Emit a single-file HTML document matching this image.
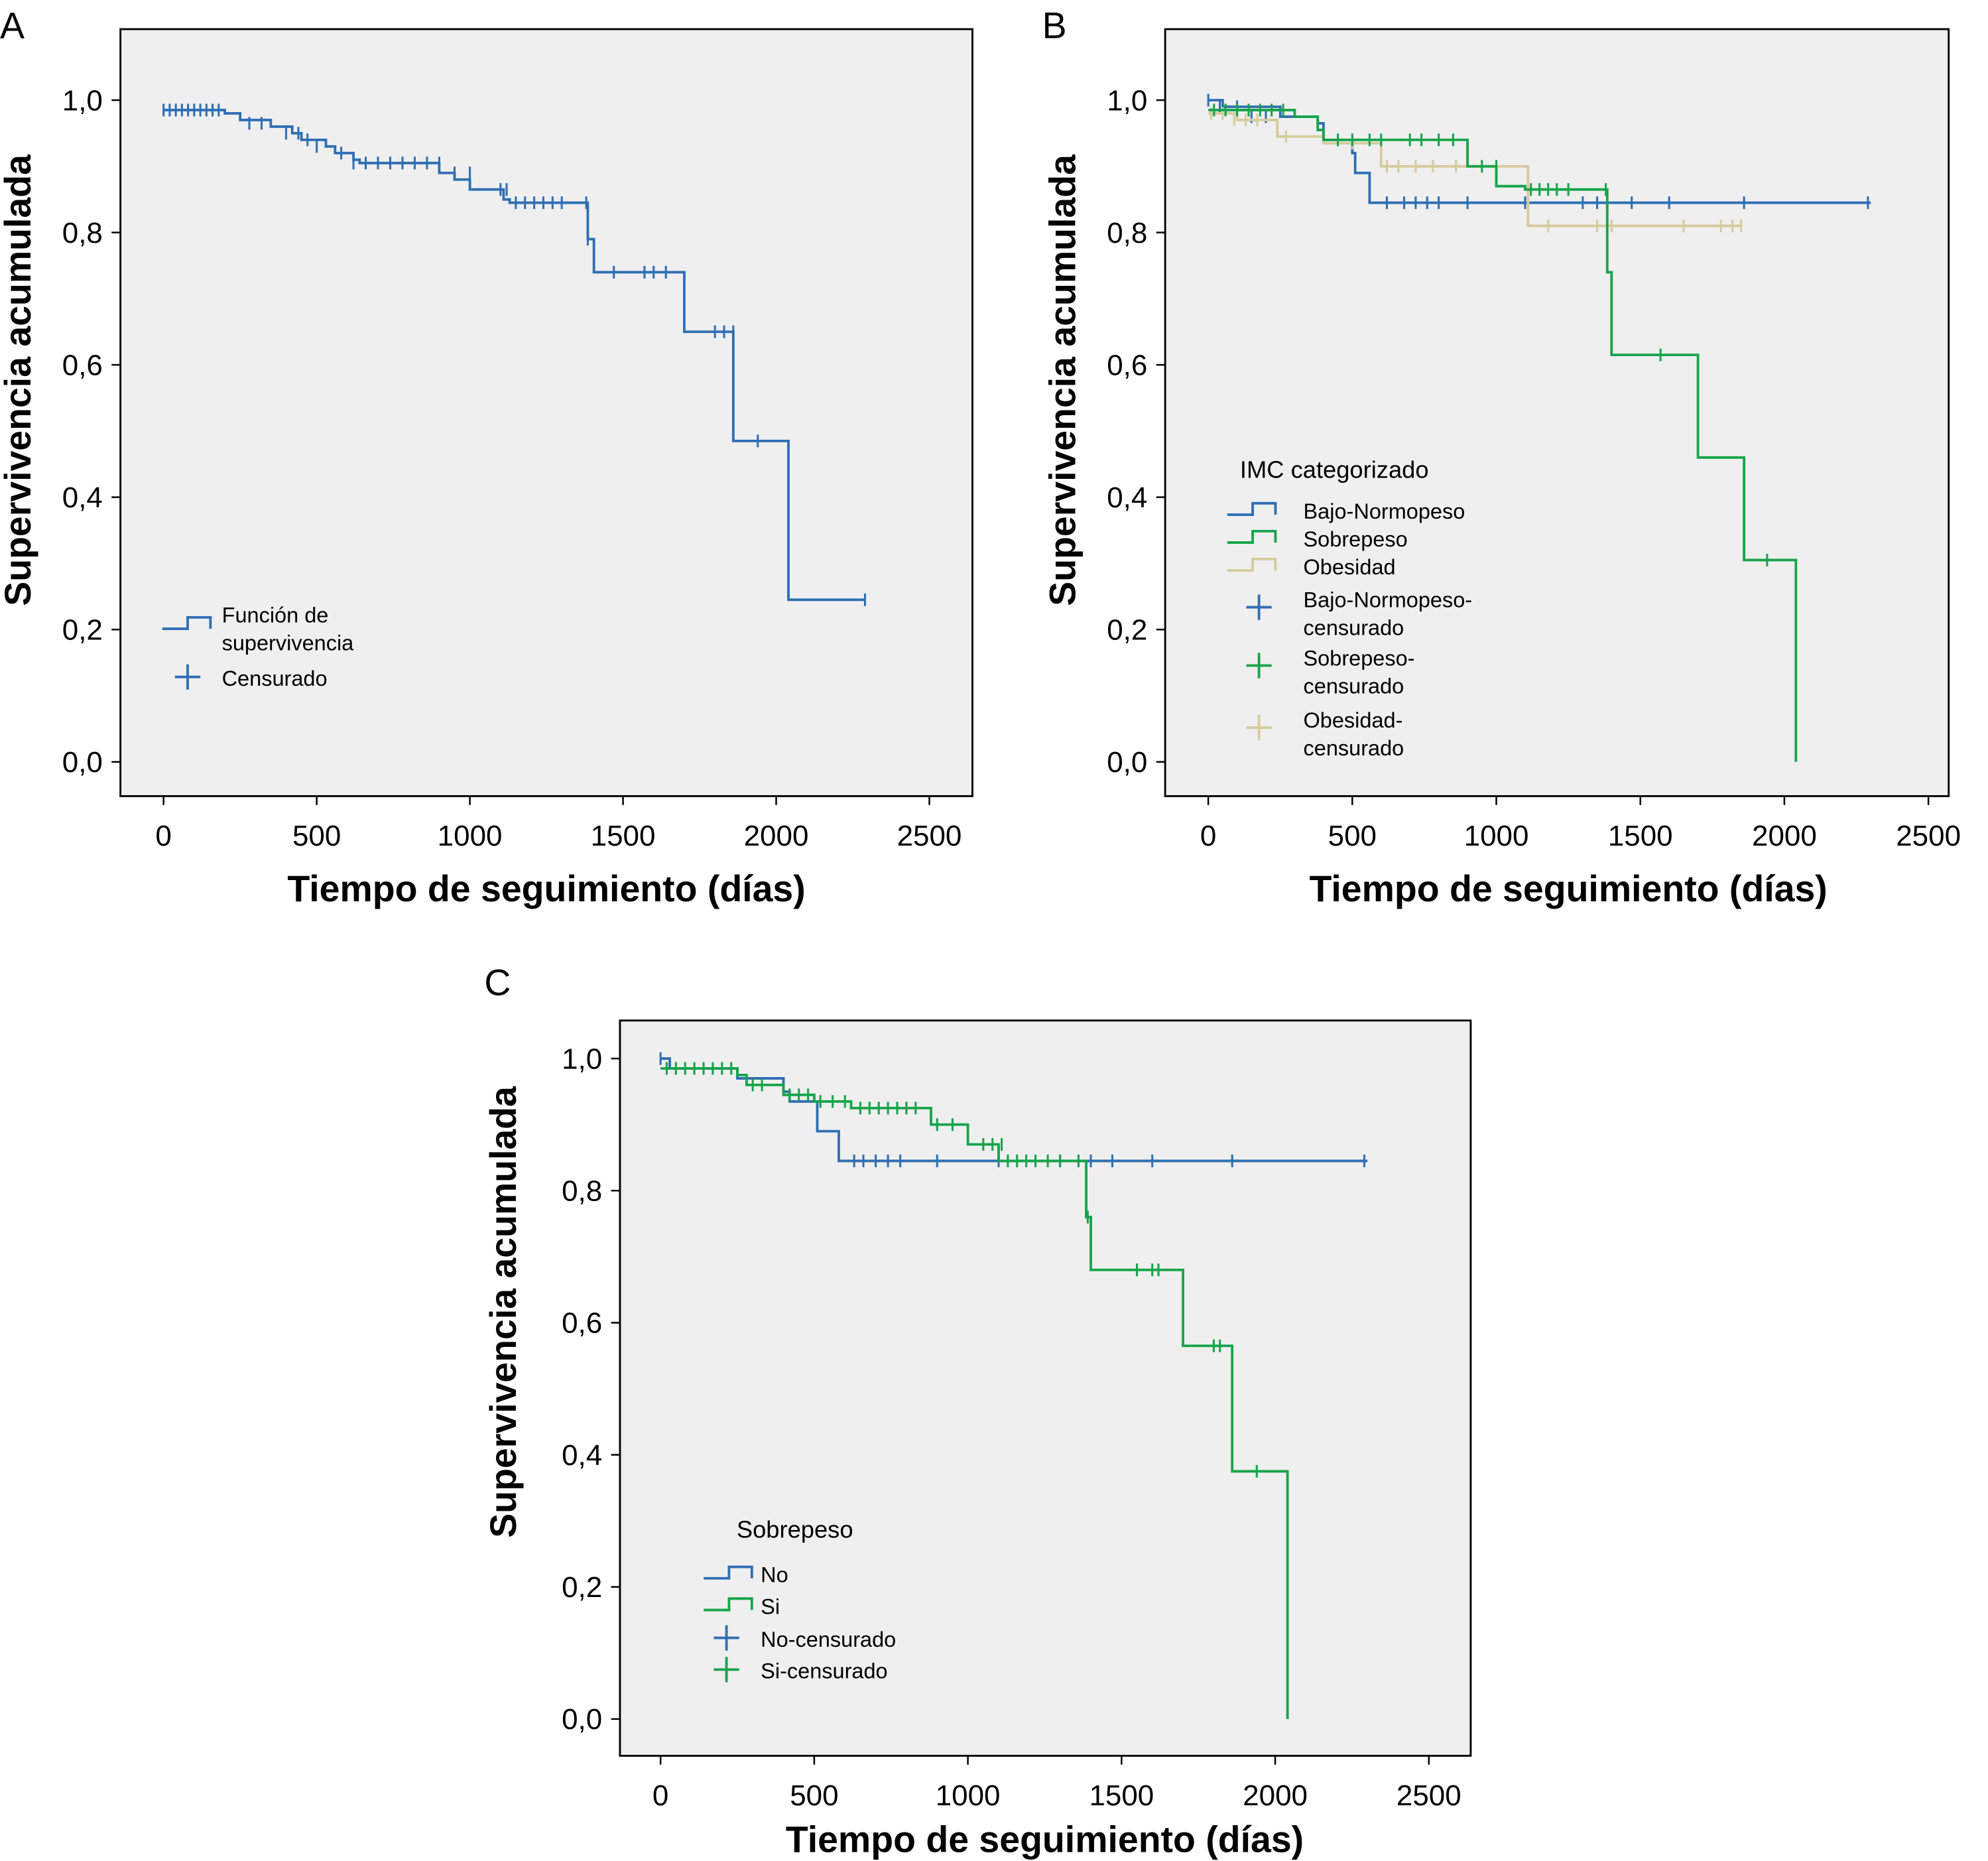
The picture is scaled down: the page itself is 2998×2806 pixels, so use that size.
<!DOCTYPE html>
<html><head><meta charset="utf-8"><style>
html,body{margin:0;padding:0;background:#fff;}
svg{display:block;font-family:"Liberation Sans",Arial,sans-serif;}
</style></head><body>
<svg id="chart" width="2998" height="2806" viewBox="0 0 1568 1468" preserveAspectRatio="none" xmlns="http://www.w3.org/2000/svg"></svg>
<script>
// Panel A data
const aTimes=[0,200,250,350,420,450,530,560,620,640,900,950,1000,1110,1130,1385,1405,1700,1860,2040,2290];
const aSurv=[0.985,0.98,0.97,0.96,0.95,0.94,0.93,0.92,0.91,0.905,0.89,0.88,0.865,0.85,0.845,0.79,0.74,0.65,0.485,0.245,0.245];
const aCensT=[0,20,40,60,80,100,120,140,160,180,280,320,400,440,470,500,580,620,660,700,740,780,820,860,900,950,1000,1100,1120,1150,1180,1210,1240,1270,1300,1380,1385,1470,1570,1600,1640,1800,1830,1860,1940,2290];
const aCensS=[0.985,0.985,0.985,0.985,0.985,0.985,0.985,0.985,0.985,0.985,0.965,0.965,0.95,0.95,0.94,0.93,0.92,0.905,0.905,0.905,0.905,0.905,0.905,0.905,0.905,0.89,0.89,0.865,0.865,0.845,0.845,0.845,0.845,0.845,0.845,0.845,0.79,0.74,0.74,0.74,0.74,0.65,0.65,0.65,0.485,0.245];
// Panel B data
const bBlueT=[0,50,250,380,400,500,510,560,2300];
const bBlueS=[1.0,0.99,0.975,0.965,0.94,0.92,0.89,0.845,0.845];
const bBlueCT=[0,40,100,150,200,620,680,720,760,800,900,1100,1300,1350,1470,1600,1860,2290];
const bBlueCS=[1.0,0.99,0.99,0.975,0.975,0.845,0.845,0.845,0.845,0.845,0.845,0.845,0.845,0.845,0.845,0.845,0.845,0.845];
const bGreenT=[0,300,380,400,900,1000,1100,1385,1400,1700,1860,2040];
const bGreenS=[0.985,0.975,0.955,0.94,0.90,0.87,0.865,0.74,0.615,0.46,0.305,0.0];
const bGreenCT=[20,60,100,140,180,220,260,450,500,560,600,700,740,800,850,950,1000,1120,1150,1180,1210,1250,1380,1570,1940];
const bGreenCS=[0.985,0.985,0.985,0.985,0.985,0.985,0.985,0.94,0.94,0.94,0.94,0.94,0.94,0.94,0.94,0.90,0.90,0.865,0.865,0.865,0.865,0.865,0.865,0.615,0.305];
const bTanT=[0,100,240,400,600,1110,1850];
const bTanS=[0.98,0.97,0.945,0.935,0.90,0.81,0.81];
const bTanCT=[10,50,90,130,170,270,500,620,660,720,780,860,1180,1350,1400,1650,1780,1820,1850];
const bTanCS=[0.98,0.98,0.97,0.97,0.97,0.945,0.935,0.90,0.90,0.90,0.90,0.90,0.81,0.81,0.81,0.81,0.81,0.81,0.81];
// Panel C data
const cBlueT=[0,30,250,400,420,510,580,2300];
const cBlueS=[1.0,0.985,0.97,0.95,0.935,0.89,0.845,0.845];
const cBlueCT=[0,630,660,700,740,780,900,1100,1300,1400,1470,1600,1860,2290];
const cBlueCS=[1.0,0.845,0.845,0.845,0.845,0.845,0.845,0.845,0.845,0.845,0.845,0.845,0.845,0.845];
const cGreenT=[0,250,280,400,500,620,880,1000,1100,1385,1400,1700,1860,2040];
const cGreenS=[0.985,0.975,0.96,0.945,0.935,0.925,0.90,0.87,0.845,0.76,0.68,0.565,0.375,0.0];
const cGreenCT=[20,50,80,110,140,170,200,230,300,330,420,450,480,520,560,600,650,680,710,740,770,800,830,900,950,1050,1080,1110,1130,1160,1190,1220,1260,1300,1360,1390,1550,1600,1620,1800,1820,1940];
const cGreenCS=[0.985,0.985,0.985,0.985,0.985,0.985,0.985,0.985,0.96,0.96,0.945,0.945,0.945,0.935,0.935,0.935,0.925,0.925,0.925,0.925,0.925,0.925,0.925,0.90,0.90,0.87,0.87,0.87,0.845,0.845,0.845,0.845,0.845,0.845,0.845,0.76,0.68,0.68,0.68,0.565,0.565,0.375];
const xTicks=[0,500,1000,1500,2000,2500];
const yTicks=[0,0.2,0.4,0.6,0.8,1.0];
const yTickLabels=["0,0","0,2","0,4","0,6","0,8","1,0"];

const NS="http://www.w3.org/2000/svg";
const svg=document.getElementById('chart');
const BLUE="#2f6fb3",GREEN="#16a44a",TAN="#d5cb9c";
function mk(tag,attrs,parent){const e=document.createElementNS(NS,tag);for(const k in attrs)e.setAttribute(k,attrs[k]);(parent||svg).appendChild(e);return e;}
function txt(s,attrs,parent){const e=mk('text',attrs,parent);e.textContent=s;return e;}

function panel(p){
  const g=mk('g',{});
  
  
  const xs=t=>p.x0+(p.x1-p.x0)*t/2500;
  const ys=v=>p.y0+(p.y1-p.y0)*(1-v);
  const box=mk('rect',{x:p.bx0,y:p.by0,width:p.bx1-p.bx0,height:p.by1-p.by0,fill:'#efefef',stroke:'#000','stroke-width':1.5},g);
  
  
  xTicks.forEach(t=>{
    mk('line',{x1:xs(t),x2:xs(t),y1:p.by1,y2:p.by1+7,stroke:'#000','stroke-width':1.3},g);
    const l=txt(String(t),{x:xs(t),y:p.by1+39,'font-size':23,'text-anchor':'middle'},g);
    
    
  });
  yTicks.forEach((v,i)=>{
    mk('line',{x1:p.bx0-7,x2:p.bx0,y1:ys(v),y2:ys(v),stroke:'#000','stroke-width':1.3},g);
    const l=txt(yTickLabels[i],{x:p.bx0-14,y:ys(v)+8,'font-size':23,'text-anchor':'end'},g);
    
    
  });
  const xt=txt('Tiempo de seguimiento (días)',{x:(p.x0+p.x1)/2,y:p.by1+p.xtOff,'font-size':29,'font-weight':'bold','text-anchor':'middle'},g);
  
  
  const ycx=p.ytx,ycy=p.yty;
  const yt=txt('Supervivencia acumulada',{x:ycx,y:ycy,'font-size':29,'font-weight':'bold','text-anchor':'middle',transform:`rotate(-90 ${ycx} ${ycy})`},g);
  
  
  const lab=txt(p.letter,{x:p.lx,y:p.ly,'font-size':29},g);
  
  
  p.series.forEach(s=>{
    let d=`M${xs(s.t[0])},${ys(s.s[0])}`;
    for(let i=1;i<s.t.length;i++){d+=` H${xs(s.t[i])} V${ys(s.s[i])}`;}
    const path=mk('path',{d:d,fill:'none',stroke:s.c,'stroke-width':2},g);
    
    
    s.ct.forEach((t,i)=>{
      const cm=mk('line',{x1:xs(t),x2:xs(t),y1:ys(s.cs[i])-5,y2:ys(s.cs[i])+5,stroke:s.c,'stroke-width':1.6},g);
      
      
    });
  });
  return g;
}
function legStep(g,x,y,c){mk('path',{d:`M${x},${y} H${x+20} V${y-9} H${x+38} V${y}`,fill:'none',stroke:c,'stroke-width':2},g);}
function legPlus(g,x,y,c){mk('path',{d:`M${x+10},${y} H${x+30} M${x+20},${y-10} V${y+10}`,stroke:c,'stroke-width':2},g);}

panel({name:'panel-a',letter:'A',lx:0,ly:30,bx0:95,bx1:767,by0:23,by1:628,x0:129,x1:733,y0:79,y1:601,xtOff:83,ytx:24,yty:300,
  series:[{n:'survival',c:BLUE,t:aTimes,s:aSurv,ct:aCensT,cs:aCensS}]});
panel({name:'panel-b',letter:'B',lx:822,ly:30,bx0:919,bx1:1537,by0:23,by1:628,x0:953,x1:1521,y0:79,y1:601,xtOff:83,ytx:848,yty:300,
  series:[{n:'bajo-normopeso',c:BLUE,t:bBlueT,s:bBlueS,ct:bBlueCT,cs:bBlueCS},
          {n:'obesidad',c:TAN,t:bTanT,s:bTanS,ct:bTanCT,cs:bTanCS},
          {n:'sobrepeso',c:GREEN,t:bGreenT,s:bGreenS,ct:bGreenCT,cs:bGreenCS}]});
panel({name:'panel-c',letter:'C',lx:382,ly:785,bx0:489,bx1:1160,by0:805,by1:1385,x0:521,x1:1127,y0:835,y1:1356,xtOff:76,ytx:407,yty:1035,
  series:[{n:'no',c:BLUE,t:cBlueT,s:cBlueS,ct:cBlueCT,cs:cBlueCS},
          {n:'si',c:GREEN,t:cGreenT,s:cGreenS,ct:cGreenCT,cs:cGreenCS}]});

// Legends
let L=mk('g',{});


legStep(L,128,496,BLUE);
txt('Función de',{x:175,y:491,'font-size':17},L);
txt('supervivencia',{x:175,y:513,'font-size':17},L);
legPlus(L,128,534,BLUE);
txt('Censurado',{x:175,y:541,'font-size':17},L);

L=mk('g',{});


txt('IMC categorizado',{x:978,y:377,'font-size':19},L);
legStep(L,968,406,BLUE);txt('Bajo-Normopeso',{x:1028,y:409,'font-size':17},L);
legStep(L,968,428,GREEN);txt('Sobrepeso',{x:1028,y:431,'font-size':17},L);
legStep(L,968,450,TAN);txt('Obesidad',{x:1028,y:453,'font-size':17},L);
legPlus(L,973,479,BLUE);txt('Bajo-Normopeso-',{x:1028,y:479,'font-size':17},L);txt('censurado',{x:1028,y:501,'font-size':17},L);
legPlus(L,973,525,GREEN);txt('Sobrepeso-',{x:1028,y:525,'font-size':17},L);txt('censurado',{x:1028,y:547,'font-size':17},L);
legPlus(L,973,574,TAN);txt('Obesidad-',{x:1028,y:574,'font-size':17},L);txt('censurado',{x:1028,y:596,'font-size':17},L);

L=mk('g',{});


txt('Sobrepeso',{x:581,y:1213,'font-size':19},L);
legStep(L,555,1245,BLUE);txt('No',{x:600,y:1248,'font-size':17},L);
legStep(L,555,1270,GREEN);txt('Si',{x:600,y:1273,'font-size':17},L);
legPlus(L,553,1292,BLUE);txt('No-censurado',{x:600,y:1299,'font-size':17},L);
legPlus(L,553,1317,GREEN);txt('Si-censurado',{x:600,y:1324,'font-size':17},L);
</script>
</body></html>
